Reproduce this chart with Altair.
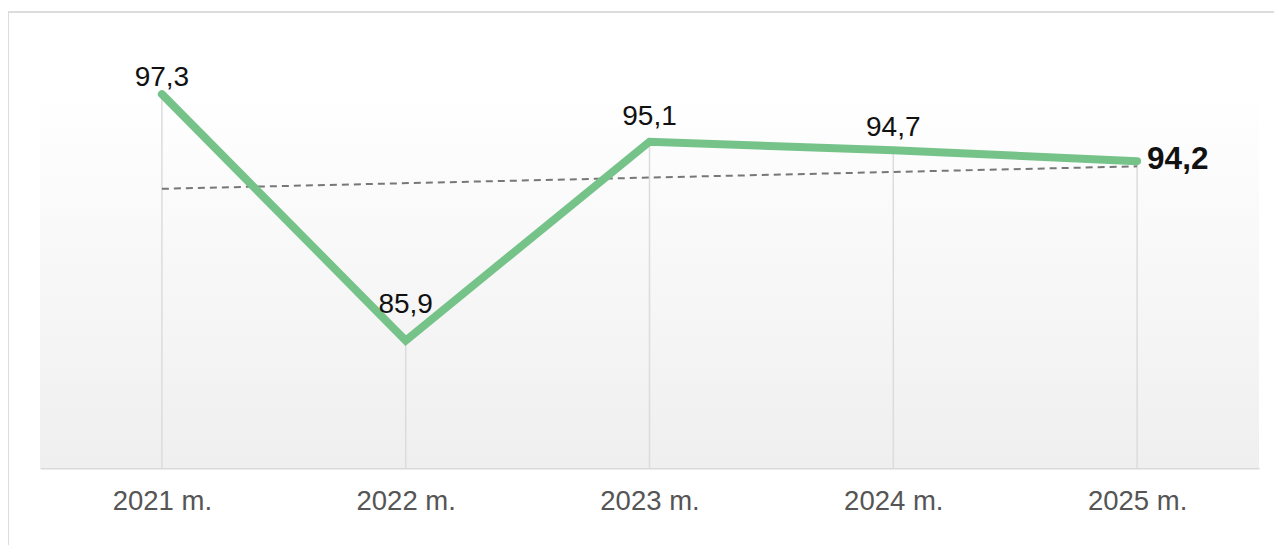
import altair as alt
import pandas as pd

# ---- data ----
years = [2021, 2022, 2023, 2024, 2025]
values = [97.3, 85.9, 95.1, 94.7, 94.2]
labels = ["97,3", "85,9", "95,1", "94,7", "94,2"]

df = pd.DataFrame({"year": years, "value": values, "label": labels})

# ---- style ----
FONT = "Liberation Sans"
W, H = 1219, 376
LINE_GREEN = "#76c38a"
# vertical offset of each value label (style only)
label_dy = {2021: -8, 2022: -28, 2023: -17, 2024: -14}

xscale = alt.Scale(domain=[2020.5, 2025.5], nice=False, zero=False)
yscale = alt.Scale(domain=[80, 97.4], nice=False, zero=False)

x_axis = alt.Axis(
    values=years,
    labelExpr="datum.value + ' m.'",
    title=None,
    grid=False,
    ticks=False,
    tickSize=0,
    labelPadding=19,
    labelFontSize=27.5,
    labelColor="#555555",
    labelFont=FONT,
    labelFlush=False,
    domainColor="#d9d9d9",
    domainWidth=2,
)
x_enc = alt.X("year:Q", scale=xscale, axis=x_axis)
y_enc = alt.Y("value:Q", scale=yscale, axis=None)

one = pd.DataFrame({"a": [0]})

# gradient background of plot area
bg = alt.Chart(one).mark_rect(
    color=alt.Gradient(
        gradient="linear",
        stops=[
            alt.GradientStop(color="#ffffff", offset=0),
            alt.GradientStop(color="#efefef", offset=1),
        ],
        x1=0, x2=0, y1=0, y2=1,
    )
).encode(x=alt.value(0), x2=alt.value(W), y=alt.value(0), y2=alt.value(H))

# outer frame
frame = alt.Chart(one).mark_rect(
    filled=False, stroke="#dcdcdc", strokeWidth=2
).encode(x=alt.value(-32), x2=alt.value(W + 80), y=alt.value(-80), y2=alt.value(H + 200))

base = alt.Chart(df)

grid = base.mark_rule(color="#dcdcdc", strokeWidth=1.5).encode(
    x=x_enc, y=y_enc, y2=alt.datum(80)
)

trend = base.transform_regression("year", "value").mark_line(
    color="#777777", strokeWidth=2, strokeDash=[7, 5]
).encode(x=x_enc, y=y_enc)

line = base.mark_line(
    color=LINE_GREEN, strokeWidth=8, strokeCap="round", strokeJoin="miter"
).encode(x=x_enc, y=y_enc)

text_layers = []
for yr, dy in label_dy.items():
    text_layers.append(
        base.transform_filter(alt.datum.year == yr)
        .mark_text(font=FONT, fontSize=28, color="#111111", baseline="alphabetic",
                   align="center", dy=dy)
        .encode(x=x_enc, y=y_enc, text="label:N")
    )

last = base.transform_filter(alt.datum.year == years[-1]).mark_text(
    font=FONT, fontSize=31.5, fontWeight="bold", color="#111111",
    baseline="alphabetic", align="left", dx=10, dy=8
).encode(x=x_enc, y=y_enc, text="label:N")

chart = alt.layer(bg, frame, grid, trend, line, *text_layers, last).properties(
    width=W,
    height=H,
    padding={"left": 32, "top": 84, "right": 15, "bottom": 77},
    autosize="none",
).configure_view(strokeWidth=0)

chart.save("out.html", embed_options={"renderer": "svg", "actions": False})
